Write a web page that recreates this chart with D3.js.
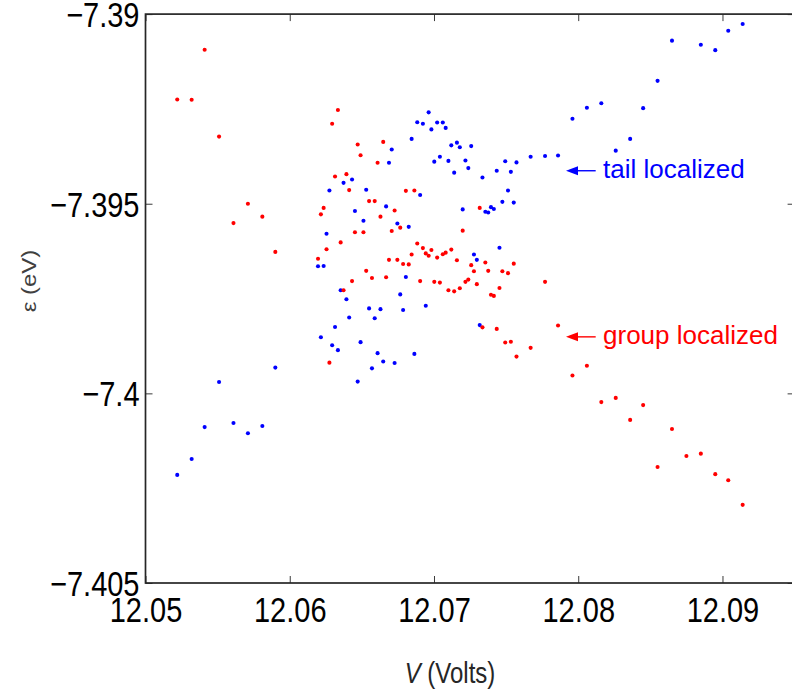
<!DOCTYPE html>
<html>
<head>
<meta charset="utf-8">
<script src="https://cdn.jsdelivr.net/npm/d3@7"></script>
<style>
  html, body { margin: 0; padding: 0; background: #fff; }
  svg { display: block; }
</style>
</head>
<body>
<div id="chart"></div>
<script>
// Bias voltage (Volts) of each computed state pair
const voltage = [
  12.0522, 12.0532, 12.0541, 12.0551, 12.0561, 12.0571, 12.0581, 12.0590,
  12.06196, 12.06216, 12.06235, 12.06255, 12.06275, 12.06294, 12.06314, 12.06334,
  12.06353, 12.06373, 12.06393, 12.06412, 12.06432, 12.06452, 12.06471, 12.06491,
  12.06511, 12.06530, 12.06550, 12.06570, 12.06589, 12.06609, 12.06629, 12.06648,
  12.06668, 12.06688, 12.06707, 12.06727, 12.06746, 12.06766, 12.06786, 12.06805,
  12.06825, 12.06845, 12.06864, 12.06884, 12.06904, 12.06923, 12.06943, 12.06963,
  12.06982, 12.07002, 12.07022, 12.07041, 12.07061, 12.07081, 12.07100, 12.07120,
  12.07140, 12.07159, 12.07179, 12.07199, 12.07218, 12.07238, 12.07258, 12.07277,
  12.07297, 12.07317, 12.07336, 12.07356, 12.07376, 12.07395, 12.07415, 12.07435,
  12.07454, 12.07474, 12.07494, 12.07513, 12.07533, 12.07553, 12.07572,
  12.0767, 12.0777, 12.0786, 12.0796, 12.0806, 12.0816, 12.0826, 12.0836,
  12.0845, 12.0855, 12.0865, 12.0875, 12.0885, 12.0895, 12.0904, 12.0914
];

// Energy of the group-localized state (eV)
const groupLocalized = [
  -7.39225, -7.39226, -7.39094, -7.39323, -7.39551, -7.39500, -7.39534, -7.39627,
  -7.39645, -7.39528, -7.39511, -7.39620, -7.39919, -7.39289, -7.39428, -7.39253,
  -7.39602, -7.39728, -7.39422, -7.39464, -7.39704, -7.39575, -7.39344, -7.39372,
  -7.39575, -7.39677, -7.39493, -7.39696, -7.39493, -7.39392, -7.39534, -7.39337,
  -7.39694, -7.39648, -7.39572, -7.39518, -7.39648, -7.39563, -7.39659, -7.39466,
  -7.39660, -7.39634, -7.39465, -7.39605, -7.39704, -7.39617, -7.39631, -7.39637,
  -7.39622, -7.39706, -7.39642, -7.39708, -7.39633, -7.39629, -7.39728, -7.39621,
  -7.39731, -7.39649, -7.39723, -7.39571, -7.39706, -7.39700, -7.39662, -7.39678,
  -7.39712, -7.39511, -7.39826, -7.39655, -7.39677, -7.39740, -7.39743, -7.39830,
  -7.39722, -7.39678, -7.39866, -7.39683, -7.39864, -7.39658, -7.39903,
  -7.39880, -7.39706, -7.39821, -7.39953, -7.39927, -7.40023, -7.40012, -7.40070,
  -7.40031, -7.40194, -7.40094, -7.40165, -7.40159, -7.40213, -7.40229, -7.40294
];

// Energy of the tail-localized state (eV); null where it lies off the plotted range
const tailLocalized = [
  -7.40215, -7.40173, -7.40089, -7.39970, -7.40078, -7.40105, -7.40086, -7.39932,
  -7.39665, -7.39852, -7.39664, -7.39579, -7.39465, -7.39873, -7.39825, -7.39886,
  -7.39728, -7.39445, -7.39752, -7.39800, -7.39436, -7.39519, -7.39969, -7.39865,
  -7.39545, -7.39463, -7.39776, -7.39934, -7.39802, -7.39894, -7.39778, -7.39916,
  -7.39507, -7.39392, -7.39357, -7.39920, -7.39552, -7.39739, -7.39780, -7.39693,
  -7.39561, -7.39329, -7.39896, -7.39285, -7.39477, -7.39289, -7.39769, -7.39259,
  -7.39304, -7.39389, -7.39286, -7.39376, -7.39286, -7.39300, -7.39387, -7.39346,
  -7.39418, -7.39339, -7.39351, -7.39515, -7.39386, -7.39406, -7.39348, -7.39634,
  -7.39648, -7.39820, -7.39431, -7.39521, -7.39523, -7.39509, -7.39514, -7.39413,
  -7.39616, -7.39495, -7.39388, -7.39465, -7.39416, -7.39497, -7.39391,
  -7.39376, -7.39374, -7.39373, -7.39276, -7.39247, -7.39235, -7.39360, -7.39329,
  -7.39248, -7.39176, -7.39070, null, -7.39081, -7.39095, -7.39044, -7.39026
];

const xTicks = [12.05, 12.06, 12.07, 12.08, 12.09];
const xTickLabels = ["12.05", "12.06", "12.07", "12.08", "12.09"];
const yTicks = [-7.39, -7.395, -7.4, -7.405];
const yTickLabels = ["\u22127.39", "\u22127.395", "\u22127.4", "\u22127.405"];

// Callout labels: arrow tip, arrow tail and text start in data units
const callouts = [
  { text: "tail localized",  color: "#0000ff", tipV: 12.07915, tailV: 12.08121, textV: 12.08172, e: -7.39413 },
  { text: "group localized", color: "#ff0000", tipV: 12.07915, tailV: 12.08121, textV: 12.08172, e: -7.39851 }
];

const W = 792, H = 692;
const FONT = "'Liberation Sans', Arial, Helvetica, sans-serif";

const x = d3.scaleLinear().domain([12.05, 12.095]).range([145.5, 794.6]);
const y = d3.scaleLinear().domain([-7.405, -7.39]).range([583, 14.1]);

const svg = d3.select("#chart").append("svg")
  .attr("width", W).attr("height", H)
  .style("background", "#fff");

svg.append("rect").attr("width", W).attr("height", H).attr("fill", "#fff");

// clip to the axes box
svg.append("clipPath").attr("id", "plot-clip")
  .append("rect")
  .attr("x", x.range()[0]).attr("y", y.range()[1])
  .attr("width", x.range()[1] - x.range()[0])
  .attr("height", y.range()[0] - y.range()[1]);

// ---- axes (MATLAB style: ticks pointing inward, box all round) ----
const tickLen = -7;

function styleTicks(g) {
  g.select(".domain").remove();
  g.selectAll(".tick line").attr("stroke", "#3a3a3a").attr("stroke-width", 1);
}

const gBottom = svg.append("g")
  .attr("transform", `translate(0,${y.range()[0]})`)
  .call(d3.axisBottom(x).tickValues(xTicks).tickSize(tickLen)
        .tickFormat((d, i) => xTickLabels[i]));
styleTicks(gBottom);
gBottom.selectAll(".tick text")
  .attr("y", 0).attr("dy", null)
  .attr("transform", "translate(0,39) scale(1,1.2)")
  .attr("fill", "#000")
  .style("font-family", FONT).style("font-size", "29px");

const gTop = svg.append("g")
  .attr("transform", `translate(0,${y.range()[1]})`)
  .call(d3.axisTop(x).tickValues(xTicks).tickSize(tickLen).tickFormat(""));
styleTicks(gTop);

const gLeft = svg.append("g")
  .attr("transform", `translate(${x.range()[0]},0)`)
  .call(d3.axisLeft(y).tickValues(yTicks).tickSize(tickLen)
        .tickFormat((d, i) => yTickLabels[i]));
styleTicks(gLeft);
gLeft.selectAll(".tick text")
  .attr("x", 0).attr("dy", null)
  .attr("transform", "translate(-6,12.5) scale(1,1.2)")
  .attr("text-anchor", "end")
  .attr("fill", "#000")
  .style("font-family", FONT).style("font-size", "29px");

const gRight = svg.append("g")
  .attr("transform", `translate(${x.range()[1]},0)`)
  .call(d3.axisRight(y).tickValues(yTicks).tickSize(tickLen).tickFormat(""));
styleTicks(gRight);

// axes box
svg.append("rect")
  .attr("x", x.range()[0]).attr("y", y.range()[1])
  .attr("width", x.range()[1] - x.range()[0])
  .attr("height", y.range()[0] - y.range()[1])
  .attr("fill", "none")
  .attr("stroke", "#262626")
  .attr("stroke-width", 1.7);

// ---- data points ----
const points = svg.append("g").attr("clip-path", "url(#plot-clip)");

points.selectAll("circle.tail")
  .data(voltage.map((v, i) => ({ v, e: tailLocalized[i] })).filter(d => d.e !== null))
  .join("circle")
  .attr("class", "tail")
  .attr("cx", d => x(d.v)).attr("cy", d => y(d.e))
  .attr("r", 2.05)
  .attr("fill", "#0000ff");

points.selectAll("circle.group")
  .data(voltage.map((v, i) => ({ v, e: groupLocalized[i] })))
  .join("circle")
  .attr("class", "group")
  .attr("cx", d => x(d.v)).attr("cy", d => y(d.e))
  .attr("r", 2.05)
  .attr("fill", "#ff0000");

// ---- callouts ----
callouts.forEach(c => {
  const ty = y(c.e), tip = x(c.tipV), tail = x(c.tailV);
  svg.append("line")
    .attr("x1", tip + 8).attr("y1", ty)
    .attr("x2", tail).attr("y2", ty)
    .attr("stroke", c.color).attr("stroke-width", 1.4);
  svg.append("path")
    .attr("d", `M${tip},${ty} L${tip + 12},${ty - 4.5} L${tip + 12},${ty + 4.5} Z`)
    .attr("fill", c.color);
  svg.append("text")
    .attr("x", x(c.textV)).attr("y", ty + 7)
    .attr("fill", c.color)
    .style("font-family", FONT).style("font-size", "26px")
    .text(c.text);
});

// ---- axis titles ----
const xTitle = svg.append("text")
  .attr("transform", "translate(450,683) scale(1,1.2)")
  .attr("text-anchor", "middle")
  .attr("fill", "#262626")
  .style("font-family", FONT).style("font-size", "24px");
xTitle.append("tspan").style("font-style", "italic").text("V");
xTitle.append("tspan").text(" (Volts)");

svg.append("text")
  .attr("transform", "translate(36,281) rotate(-90) scale(1.2,1)")
  .attr("text-anchor", "middle")
  .attr("fill", "#404040")
  .style("font-family", FONT).style("font-size", "20px")
  .text("\u03b5 (eV)");
</script>
</body>
</html>
